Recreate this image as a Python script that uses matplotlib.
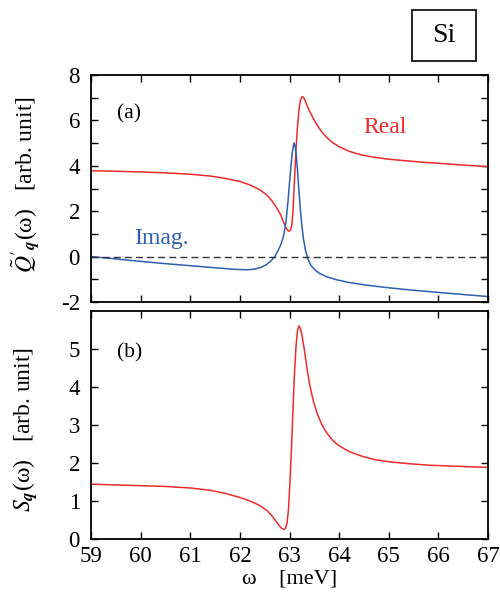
import numpy as np
import matplotlib
matplotlib.use('Agg')
import matplotlib.pyplot as plt
from matplotlib.patches import Rectangle
from matplotlib.ticker import MultipleLocator

# values
w_real = [59.0, 59.5, 60.0, 60.5, 61.0, 61.4, 61.7, 62.0, 62.2, 62.4,
          62.55, 62.65, 62.75, 62.82, 62.88, 62.93, 62.97, 63.0, 63.03, 63.05,
          63.07, 63.09, 63.11, 63.13, 63.16, 63.19, 63.22, 63.25, 63.28, 63.31,
          63.35, 63.41, 63.48, 63.56, 63.65, 63.75, 63.87, 64.0, 64.2, 64.45,
          64.7, 65.0, 65.4, 65.8, 66.2, 66.6, 67.0]
q_real = [3.78, 3.76, 3.73, 3.69, 3.63, 3.55, 3.45, 3.31, 3.16, 2.95,
          2.70, 2.45, 2.12, 1.85, 1.52, 1.27, 1.14, 1.12, 1.22, 1.45,
          2.00, 2.90, 3.80, 4.70, 5.70, 6.45, 6.90, 7.04, 7.03, 6.90,
          6.68, 6.38, 6.08, 5.78, 5.50, 5.25, 5.02, 4.84, 4.64, 4.48,
          4.38, 4.29, 4.21, 4.14, 4.08, 4.02, 3.96]

w_imag = [59.0, 59.5, 60.0, 60.5, 61.0, 61.5, 61.9, 62.15, 62.3, 62.43,
          62.53, 62.63, 62.70, 62.76, 62.82, 62.88, 62.93, 62.97, 63.0, 63.03,
          63.06, 63.09, 63.11, 63.13, 63.16, 63.19, 63.22, 63.25, 63.28, 63.32,
          63.37, 63.43, 63.5, 63.6, 63.75, 63.95, 64.2, 64.5, 64.9, 65.3,
          65.8, 66.4, 67.0]
q_imag = [0.0, -0.10, -0.21, -0.31, -0.40, -0.49, -0.56, -0.58, -0.55, -0.47,
          -0.36, -0.18, 0.0, 0.22, 0.50, 0.90, 1.55, 2.45, 3.25, 4.00,
          4.65, 5.00, 4.90, 4.60, 3.85, 2.90, 2.05, 1.35, 0.80, 0.30,
          -0.10, -0.38, -0.56, -0.73, -0.89, -1.02, -1.14, -1.24, -1.35, -1.44,
          -1.54, -1.65, -1.76]

w_s = [59.0, 59.5, 60.0, 60.5, 61.0, 61.4, 61.7, 62.0, 62.2, 62.4,
       62.55, 62.65, 62.73, 62.8, 62.85, 62.89, 62.92, 62.95, 62.98, 63.01,
       63.04, 63.07, 63.10, 63.13, 63.16, 63.19, 63.22, 63.25, 63.30, 63.35,
       63.41, 63.48, 63.56, 63.65, 63.75, 63.87, 64.0, 64.2, 64.45, 64.7,
       65.0, 65.4, 65.8, 66.2, 66.6, 67.0]
s_q = [1.45, 1.43, 1.41, 1.39, 1.35, 1.29, 1.21, 1.10, 1.01, 0.89,
       0.75, 0.61, 0.47, 0.35, 0.28, 0.26, 0.30, 0.42, 0.80, 1.52,
       2.40, 3.40, 4.35, 5.05, 5.48, 5.62, 5.55, 5.38, 4.98, 4.52,
       4.05, 3.64, 3.30, 3.02, 2.80, 2.60, 2.46, 2.31, 2.19, 2.10,
       2.04, 1.99, 1.95, 1.93, 1.91, 1.89]

x_ticks = [59, 60, 61, 62, 63, 64, 65, 66, 67]

red = '#ee2b2b'
blue = '#2d5fb3'

plt.rcParams['font.family'] = ['Liberation Serif', 'DejaVu Serif']
plt.rcParams['mathtext.fontset'] = 'stix'
plt.rcParams['axes.unicode_minus'] = False

fig = plt.figure(figsize=(5.0, 6.02), dpi=100)
ax1 = fig.add_axes([0.182, 0.4983, 0.794, 0.3771])
ax2 = fig.add_axes([0.182, 0.1042, 0.794, 0.3787])

# (a) real and imaginary parts
ax1.plot(w_real, q_real, color=red, lw=1.1)
ax1.plot(w_imag, q_imag, color=blue, lw=1.1)
ax1.axhline(0, color='#333333', lw=1.0, ls=(0, (5, 3)))
ax1.set_xlim(59, 67)
ax1.set_ylim(-2, 8)
ax1.yaxis.set_major_locator(MultipleLocator(2))
ax1.yaxis.set_minor_locator(MultipleLocator(1))
ax1.set_xticks(x_ticks)
ax1.set_xticklabels([])
ax1.text(59.53, 6.3, '(a)', fontsize=15.5, va='center')
ax1.text(60.41, 0.8, 'Imag.', fontsize=17, color=blue, ha='center', va='center')
ax1.text(64.93, 5.7, 'Real', fontsize=17, color=red, ha='center', va='center')

# (b) structure factor
ax2.plot(w_s, s_q, color=red, lw=1.1)
ax2.set_xlim(59, 67)
ax2.set_ylim(0, 6)
ax2.set_yticks([0, 1, 2, 3, 4, 5])
ax2.set_xticks(x_ticks)
ax2.text(59.53, 4.9, '(b)', fontsize=15.5, va='center')
ax2.set_xlabel('ω    [meV]', fontsize=16, labelpad=2)

for ax in (ax1, ax2):
    ax.tick_params(which='both', direction='in', top=True, right=True,
                   length=5, width=1.0, labelsize=16.5)
    ax.tick_params(axis='y', pad=8)
    ax.tick_params(axis='x', pad=5)
    for sp in ax.spines.values():
        sp.set_linewidth(1.3)

fig.text(0.052, 0.693, r"$\tilde{Q}'_{\mathbfit{q}}$(ω)   [arb. unit]",
         rotation=90, fontsize=17, ha='center', va='center')
fig.text(0.052, 0.286, r"$S_{\mathbfit{q}}$(ω)   [arb. unit]",
         rotation=90, fontsize=17, ha='center', va='center')

# Si label box
fig.patches.append(Rectangle((412 / 500, 1 - 61 / 602), 64 / 500, 51 / 602,
                             transform=fig.transFigure, fill=False,
                             ec='black', lw=1.2))
fig.text(444 / 500, 1 - 36 / 602, 'Si', fontsize=20, ha='center', va='center')

plt.savefig('out.png', dpi=100)
